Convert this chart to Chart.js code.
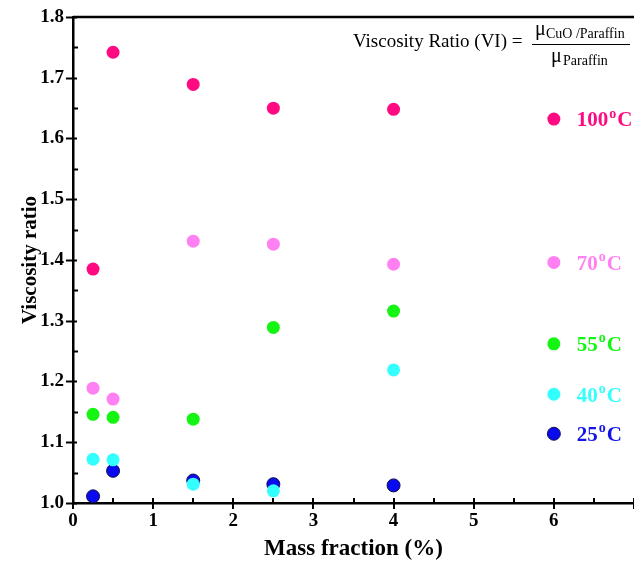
<!DOCTYPE html>
<html>
<head>
<meta charset="utf-8">
<script src="https://cdn.jsdelivr.net/npm/chart.js@4"></script>
<style>
  html, body { margin: 0; padding: 0; background: #fff; }
  #wrap { width: 634px; height: 563px; }
</style>
</head>
<body>
<div id="wrap"><canvas id="chart"></canvas></div>
<script>
// mass fraction (%) of CuO
const massFraction = [0.25, 0.5, 1.5, 2.5, 4];

// viscosity ratio per temperature
const vr100 = [1.385, 1.742, 1.689, 1.650, 1.648];
const vr70 = [1.189, 1.171, 1.431, 1.426, 1.393];
const vr55 = [1.146, 1.141, 1.138, 1.289, 1.316];
const vr40 = [1.072, 1.071, 1.031, 1.020, 1.219];
const vr25 = [1.011, 1.053, 1.037, 1.031, 1.029];

const temps = ['100', '70', '55', '40', '25'];
const colors = ['#ff0a80', '#ff80f2', '#14f514', '#33ffff', '#0a0af0'];

// in-plot legend: marker at x = 6, label to the right
const legendX = 6;
const legendY = [1.632, 1.396, 1.262, 1.179, 1.114];

const FONT = '"Liberation Serif", "Times New Roman", serif';

function pts(ys) {
    return massFraction.map((x, i) => ({ x: x, y: ys[i] }));
}

const series = [vr100, vr70, vr55, vr40, vr25];
const datasets = series.map((ys, i) => ({
    label: temps[i] + '°C',
    data: pts(ys),
    backgroundColor: colors[i],
    borderColor: i === 4 ? '#10104a' : colors[i],
    borderWidth: i === 4 ? 1 : 0,
    pointRadius: 6.5,
    pointHoverRadius: 6.5
}));

// ticks crossing the axes + minor ticks, frame top, legend, formula
const decor = {
    id: 'decor',
    afterDatasetsDraw(chart) {
        const ctx = chart.ctx;
        const xs = chart.scales.x, ys = chart.scales.y;
        const area = chart.chartArea;
        ctx.save();
        ctx.strokeStyle = '#000';
        ctx.lineWidth = 2;

        // y ticks
        for (let v = 1.0; v <= 1.8001; v += 0.1) {
            const p = Math.round(ys.getPixelForValue(v)) + 0.5;
            ctx.beginPath(); ctx.moveTo(area.left - 7, p); ctx.lineTo(area.left + 4, p); ctx.stroke();
            const m = ys.getPixelForValue(v + 0.05);
            if (v < 1.79) {
                ctx.beginPath(); ctx.moveTo(area.left, Math.round(m) + 0.5); ctx.lineTo(area.left + 5, Math.round(m) + 0.5); ctx.stroke();
            }
        }
        // x ticks
        for (let v = 0; v <= 7; v += 1) {
            const p = Math.round(xs.getPixelForValue(v));
            ctx.beginPath(); ctx.moveTo(p, area.bottom + 6); ctx.lineTo(p, area.bottom - 5); ctx.stroke();
            if (v < 7) {
                const m = Math.round(xs.getPixelForValue(v + 0.5));
                ctx.beginPath(); ctx.moveTo(m, area.bottom); ctx.lineTo(m, area.bottom - 5); ctx.stroke();
            }
        }
        // top frame line
        ctx.lineWidth = 2.5;
        ctx.beginPath(); ctx.moveTo(area.left, area.top); ctx.lineTo(chart.width, area.top); ctx.stroke();

        // legend markers and labels
        const lx = xs.getPixelForValue(legendX);
        legendY.forEach((v, i) => {
            const py = ys.getPixelForValue(v);
            ctx.beginPath();
            ctx.arc(lx, py, 6.5, 0, Math.PI * 2);
            ctx.fillStyle = colors[i];
            ctx.fill();
            if (i === 4) { ctx.lineWidth = 1; ctx.strokeStyle = '#10104a'; ctx.stroke(); }
            ctx.fillStyle = i === 4 ? '#1414e6' : colors[i];
            ctx.textBaseline = 'middle';
            ctx.textAlign = 'left';
            let tx = lx + 23;
            ctx.font = 'bold 21px ' + FONT;
            ctx.fillText(temps[i], tx, py + 2);
            tx += ctx.measureText(temps[i]).width + 1;
            ctx.font = 'bold 14px ' + FONT;
            ctx.fillText('o', tx, py - 5);
            tx += ctx.measureText('o').width + 1;
            ctx.font = 'bold 21px ' + FONT;
            ctx.fillText('C', tx, py + 2);
        });

        // formula
        ctx.fillStyle = '#000';
        ctx.strokeStyle = '#000';
        ctx.textBaseline = 'middle';
        ctx.textAlign = 'left';
        ctx.font = '19px ' + FONT;
        ctx.fillText('Viscosity Ratio (VI) =', 353, 42);
        // fraction bar
        ctx.lineWidth = 1;
        ctx.beginPath(); ctx.moveTo(532, 44.5); ctx.lineTo(630, 44.5); ctx.stroke();
        // numerator
        ctx.font = '20px ' + FONT;
        ctx.fillText('μ', 535, 30);
        ctx.font = '14px ' + FONT;
        ctx.fillText('CuO /Paraffin', 546, 34);
        // denominator
        ctx.font = '20px ' + FONT;
        ctx.fillText('μ', 551, 57);
        ctx.font = '14px ' + FONT;
        ctx.fillText('Paraffin', 563, 61);
        ctx.restore();
    }
};

const ctx = document.getElementById('chart').getContext('2d');
const chart = new Chart(ctx, {
    type: 'scatter',
    data: { datasets: datasets },
    options: {
        responsive: true,
        maintainAspectRatio: false,
        animation: false,
        layout: { autoPadding: false, padding: { top: 17, right: 0, left: 0, bottom: 0 } },
        plugins: {
            legend: { display: false },
            tooltip: { enabled: false }
        },
        scales: {
            x: {
                type: 'linear',
                min: 0,
                max: 7,
                ticks: {
                    stepSize: 1,
                    color: '#000',
                    padding: 0,
                    maxRotation: 0,
                    font: { family: FONT, size: 19, weight: 'bold' },
                    callback: v => (v < 7 ? v : '')
                },
                // tick marks are drawn by the plugin; tickLength only spaces the labels
                grid: { display: false, drawTicks: true, tickLength: 7 },
                border: { color: '#000', width: 2.5 },
                title: {
                    display: true,
                    text: 'Mass fraction (%)',
                    color: '#000',
                    font: { family: FONT, size: 23, weight: 'bold' },
                    padding: { top: 0, bottom: 0 }
                },
                afterFit(s) { s.height = 60; s.paddingRight = 0; }
            },
            y: {
                type: 'linear',
                min: 1.0,
                max: 1.8,
                ticks: {
                    stepSize: 0.1,
                    color: '#000',
                    padding: 9,
                    font: { family: FONT, size: 19, weight: 'bold' },
                    callback: v => v.toFixed(1)
                },
                grid: { display: false, drawTicks: false },
                border: { color: '#000', width: 2.5 },
                title: {
                    display: true,
                    text: 'Viscosity ratio',
                    color: '#000',
                    font: { family: FONT, size: 21, weight: 'bold' },
                    padding: { top: 18, bottom: 0 }
                },
                afterFit(s) { s.width = 73; s.paddingTop = 0; s.paddingBottom = 0; }
            }
        }
    },
    plugins: [decor]
});
</script>
</body>
</html>
